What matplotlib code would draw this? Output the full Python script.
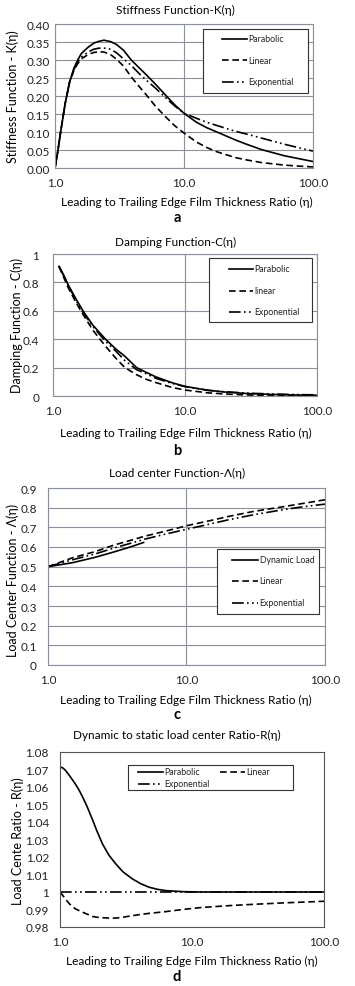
import matplotlib
matplotlib.use("Agg")
import matplotlib.pyplot as plt
from matplotlib.lines import Line2D
from matplotlib.patches import Rectangle

plt.rcParams['font.family'] = ['Lato', 'DejaVu Sans']

# ---- data ----
# a: stiffness function K(eta)
eta_a = [1.0, 1.05, 1.1, 1.2, 1.3, 1.4, 1.5, 1.6, 1.8, 2.0, 2.2, 2.4, 2.7, 3.0, 3.4, 3.9, 4.5,
         5.0, 6.0, 7.3, 8.5, 10.0, 12.5, 15.0, 18.0, 25.0, 30.0, 40.0, 60.0, 80.0, 100.0]
k_parabolic = [0.0, 0.045, 0.095, 0.18, 0.24, 0.277, 0.30, 0.318, 0.335, 0.347, 0.352, 0.355,
               0.351, 0.343, 0.327, 0.30, 0.278, 0.262, 0.233, 0.20, 0.175, 0.152, 0.127, 0.112,
               0.10, 0.078, 0.067, 0.051, 0.034, 0.025, 0.018]
k_linear = [0.0, 0.045, 0.095, 0.18, 0.24, 0.27, 0.29, 0.303, 0.315, 0.321, 0.323, 0.322,
            0.315, 0.302, 0.283, 0.253, 0.226, 0.207, 0.172, 0.14, 0.117, 0.097, 0.072, 0.057,
            0.045, 0.029, 0.023, 0.015, 0.008, 0.005, 0.003]
k_exponential = [0.0, 0.045, 0.095, 0.18, 0.24, 0.273, 0.295, 0.308, 0.322, 0.33, 0.333, 0.333,
                 0.33, 0.32, 0.303, 0.285, 0.262, 0.247, 0.222, 0.193, 0.172, 0.152, 0.138, 0.127,
                 0.118, 0.102, 0.095, 0.083, 0.066, 0.055, 0.047]

# b: damping function C(eta)
eta_b = [1.11, 1.2, 1.3, 1.5, 1.7, 2.0, 2.5, 3.0, 3.5, 4.3, 5.0, 6.0, 8.0, 10.0,
         15.0, 20.0, 30.0, 50.0, 70.0, 100.0]
c_parabolic = [0.913, 0.855, 0.785, 0.68, 0.595, 0.50, 0.40, 0.33, 0.28, 0.20, 0.17, 0.135,
               0.093, 0.068, 0.04, 0.028, 0.017, 0.01, 0.007, 0.005]
c_linear = [0.91, 0.84, 0.765, 0.655, 0.57, 0.465, 0.35, 0.265, 0.20, 0.15, 0.12, 0.095,
            0.06, 0.042, 0.022, 0.014, 0.007, 0.003, 0.002, 0.001]
c_exponential = [0.915, 0.85, 0.78, 0.67, 0.585, 0.49, 0.385, 0.315, 0.25, 0.185, 0.16, 0.125,
                 0.088, 0.066, 0.04, 0.03, 0.02, 0.013, 0.01, 0.008]

# c: load center function Lambda(eta)
eta_c_dyn = [1.0, 1.5, 2.2, 3.0, 4.0, 4.9]
lam_dynamic = [0.5, 0.52, 0.548, 0.575, 0.602, 0.623]
eta_c = [1.0, 1.5, 2.2, 3.0, 4.0, 5.0, 7.0, 10.0, 15.0, 20.0, 30.0, 50.0, 70.0, 100.0]
lam_linear = [0.5, 0.545, 0.577, 0.61, 0.635, 0.655, 0.68, 0.708, 0.735, 0.755, 0.78, 0.805, 0.822, 0.84]
lam_exponential = [0.5, 0.535, 0.565, 0.595, 0.62, 0.64, 0.665, 0.69, 0.718, 0.738, 0.763, 0.79, 0.805, 0.818]

# d: dynamic to static load center ratio R(eta)
eta_d = [1.0, 1.05, 1.1, 1.18, 1.3, 1.4, 1.49, 1.6, 1.77, 1.9, 2.1, 2.35, 2.65, 3.0, 3.55,
         4.1, 4.74, 5.5, 6.34, 8.5, 12.0, 20.0, 30.0, 50.0, 100.0]
r_parabolic = [1.0715, 1.0709, 1.0695, 1.0665, 1.062, 1.058, 1.054, 1.049, 1.041, 1.035, 1.0274,
               1.021, 1.016, 1.0115, 1.0074, 1.0047, 1.0027, 1.0015, 1.0008, 1.0002, 1.0,
               1.0, 1.0, 1.0, 1.0]
r_linear = [1.0, 0.998, 0.996, 0.9932, 0.9905, 0.9893, 0.9884, 0.9874, 0.986, 0.9856, 0.9853,
            0.9851, 0.9851, 0.9856, 0.9865, 0.9872, 0.9878, 0.9883, 0.9888, 0.99, 0.9912,
            0.9923, 0.993, 0.9938, 0.9947]
eta_d_exp = [1.0, 100.0]
r_exponential = [1.0, 1.0]

x_ticks = [1, 10, 100]
x_ticklabels = ["1.0", "10.0", "100.0"]
xlabel = "Leading to Trailing Edge Film Thickness Ratio (η)"

W, H = 355, 987
GRID = "#8a909c"
SOLID = dict(color="black", lw=1.2, ls="-")
DASH = dict(color="black", lw=1.2, ls=(0, (4, 2.2)))
DDOT = dict(color="black", lw=1.2, ls=(0, (7, 2, 1, 2, 1, 2)))

XL, TL, YL, LET = 8.6, 8.5, 9, 10.5


def box(l, r, t, b):
    return [l / W, 1 - b / H, (r - l) / W, (b - t) / H]


def ftext(x, y, s, **kw):
    fig.text(x / W, 1 - y / H, s, ha="center", va="center", **kw)


def style(ax, yticks, ylabels, ypad):
    ax.set_xscale("log")
    ax.set_xlim(1, 100)
    ax.set_ylim(yticks[0], yticks[-1])
    ax.set_xticks(x_ticks)
    ax.set_xticklabels(x_ticklabels)
    ax.xaxis.set_minor_locator(matplotlib.ticker.NullLocator())
    ax.set_yticks(yticks)
    ax.set_yticklabels(ylabels)
    ax.tick_params(axis="both", length=0, labelsize=8.5, colors="#222222")
    ax.tick_params(axis="x", pad=6.5)
    ax.tick_params(axis="y", pad=ypad)
    ax.grid(True, color=GRID, lw=0.8)
    for s in ax.spines.values():
        s.set_color(GRID)
        s.set_linewidth(0.8)
    ax.set_axisbelow(True)


def legend_box(l, r, t, b, entries):
    # frame, then one short line and label per entry (pixel positions)
    fig.add_artist(Rectangle((l / W, 1 - b / H), (r - l) / W, (b - t) / H,
                             transform=fig.transFigure, fc="white", ec="#333333", lw=0.8))
    for x0, x1, y, st, label in entries:
        fig.add_artist(Line2D([x0 / W, x1 / W], [1 - y / H, 1 - y / H],
                              transform=fig.transFigure, **st))
        fig.text((x1 + 1.5) / W, 1 - y / H, label, ha="left", va="center",
                 fontsize=6.3, color="#222222")


fig = plt.figure(figsize=(W / 100, H / 100), dpi=100)

# ---- a ----
ax = fig.add_axes(box(55, 313, 25, 169))
ax.plot(eta_a, k_parabolic, **SOLID)
ax.plot(eta_a, k_linear, **DASH)
ax.plot(eta_a, k_exponential, **DDOT)
style(ax, [0, 0.05, 0.1, 0.15, 0.2, 0.25, 0.3, 0.35, 0.4],
      ["0.00", "0.05", "0.10", "0.15", "0.20", "0.25", "0.30", "0.35", "0.40"], 3.5)
legend_box(203, 308, 30, 94, [(222, 247, 40, SOLID, "Parabolic"),
                              (222, 247, 61, DASH, "Linear"),
                              (222, 247, 83, DDOT, "Exponential")])
ftext(175, 10, "Stiffness Function-K(η)", fontsize=TL)
ftext(13, 97, "Stiffness Function - K(η)", fontsize=YL, rotation=90)
ftext(187, 202, xlabel, fontsize=XL)
ftext(177, 218, "a", fontsize=LET, fontweight="bold")

# ---- b ----
ax = fig.add_axes(box(53, 317, 255, 397))
ax.plot(eta_b, c_parabolic, **SOLID)
ax.plot(eta_b, c_linear, **DASH)
ax.plot(eta_b, c_exponential, **DDOT)
style(ax, [0, 0.2, 0.4, 0.6, 0.8, 1.0], ["0", "0.2", "0.4", "0.6", "0.8", "1"], 10)
legend_box(209, 312, 259, 323, [(229, 253, 270, SOLID, "Parabolic"),
                                (229, 253, 291.5, DASH, "linear"),
                                (229, 253, 312.5, DDOT, "Exponential")])
ftext(176, 242, "Damping Function-C(η)", fontsize=TL)
ftext(17, 325, "Damping Function - C(η)", fontsize=YL, rotation=90)
ftext(186, 433, xlabel, fontsize=XL)
ftext(177, 451, "b", fontsize=LET, fontweight="bold")

# ---- c ----
ax = fig.add_axes(box(48, 325, 489, 666))
ax.plot(eta_c_dyn, lam_dynamic, **SOLID)
ax.plot(eta_c, lam_linear, **DASH)
ax.plot(eta_c, lam_exponential, **DDOT)
style(ax, [0, 0.1, 0.2, 0.3, 0.4, 0.5, 0.6, 0.7, 0.8, 0.9],
      ["0", "0.1", "0.2", "0.3", "0.4", "0.5", "0.6", "0.7", "0.8", "0.9"], 8)
legend_box(217, 319, 550, 615, [(232, 258, 560.5, SOLID, "Dynamic Load"),
                                (232, 258, 582, DASH, "Linear"),
                                (232, 258, 604, DDOT, "Exponential")])
ftext(177, 473, "Load center Function-Λ(η)", fontsize=TL)
ftext(13, 580, "Load Center Function - Λ(η)", fontsize=YL, rotation=90)
ftext(186, 700, xlabel, fontsize=XL)
ftext(177, 715, "c", fontsize=LET, fontweight="bold")

# ---- d ----
ax = fig.add_axes(box(60, 324, 753, 928))
ax.plot(eta_d, r_parabolic, **SOLID)
ax.plot(eta_d, r_linear, **DASH)
ax.plot(eta_d_exp, r_exponential, **DDOT)
style(ax, [0.98, 0.99, 1.0, 1.01, 1.02, 1.03, 1.04, 1.05, 1.06, 1.07, 1.08],
      ["0.98", "0.99", "1", "1.01", "1.02", "1.03", "1.04", "1.05", "1.06", "1.07", "1.08"], 8)
ax.grid(False)
for s in ax.spines.values():
    s.set_color("#555555")
legend_box(128, 293, 766, 791, [(138, 163, 772.5, SOLID, "Parabolic"),
                                (220, 245, 772.5, DASH, "Linear"),
                                (138, 163, 785, DDOT, "Exponential")])
ftext(177, 735, "Dynamic to static load center Ratio-R(η)", fontsize=TL)
ftext(18, 841, "Load Cente Ratio - R(η)", fontsize=YL, rotation=90)
ftext(192, 961, xlabel, fontsize=XL)
ftext(177, 977, "d", fontsize=LET, fontweight="bold")

fig.savefig("out.png", dpi=100)
